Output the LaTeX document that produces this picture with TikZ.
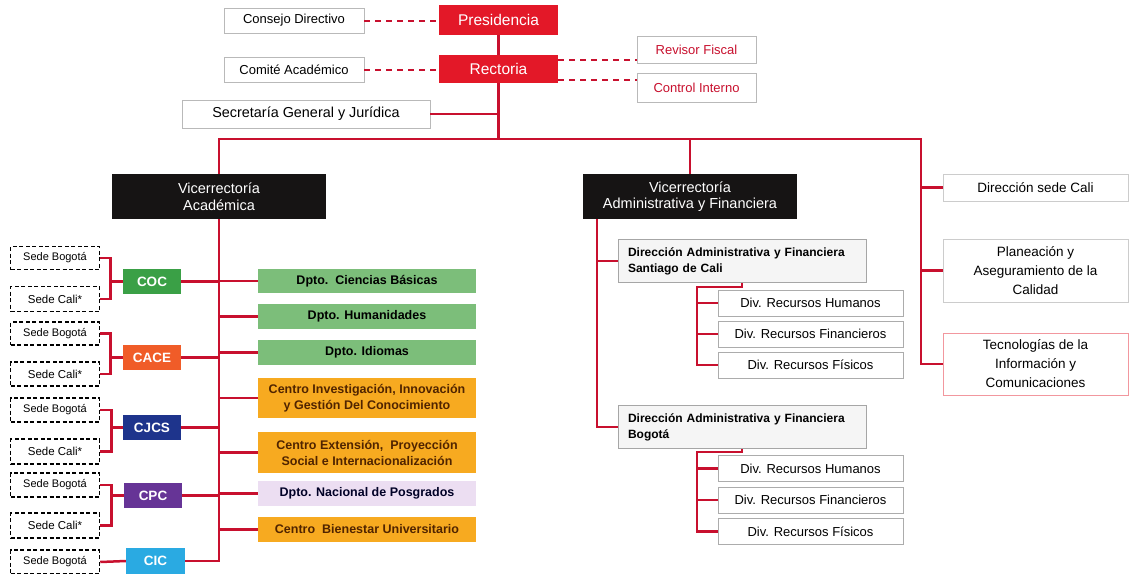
\documentclass[tikz,border=0pt]{standalone}
\usepackage{fontspec}
\setmainfont{Liberation Sans}
\definecolor{rojo}{RGB}{227,24,40}
\definecolor{rojolinea}{RGB}{200,16,46}
\definecolor{negro}{RGB}{22,20,20}
\definecolor{verdeclaro}{RGB}{124,190,122}
\definecolor{verdecoc}{RGB}{58,160,70}
\definecolor{naranja}{RGB}{247,170,32}
\definecolor{cafe}{RGB}{80,36,0}
\definecolor{lila}{RGB}{236,222,242}
\definecolor{cace}{RGB}{240,92,40}
\definecolor{cjcs}{RGB}{30,52,140}
\definecolor{cpc}{RGB}{102,52,150}
\definecolor{cic}{RGB}{42,170,226}
\begin{document}
\begin{tikzpicture}[x=1pt,y=-1pt]
\tikzset{base/.style={inner sep=0pt, align=center},
cajaroja/.style={base, fill=rojo, text=white, minimum width=119pt, font=\fontsize{15.5}{18}\selectfont},
cajablanca/.style={base, draw=gray!55, line width=0.6pt, fill=white, font=\fontsize{13}{15}\selectfont},
cajanegra/.style={base, fill=negro, text=white, minimum width=214pt, minimum height=45pt, font=\fontsize{14.5}{16.5}\selectfont},
direccion/.style={base, align=left, draw=gray!70, fill=gray!8, line width=0.7pt, text width=228pt, inner xsep=10pt, minimum height=43pt, font=\bfseries\fontsize{12}{16}\selectfont},
division/.style={base, draw=gray!65, line width=0.7pt, fill=white, minimum width=185pt, minimum height=26pt, font=\fontsize{13}{15}\selectfont},
derecha/.style={base, draw=gray!40, line width=0.6pt, fill=white, minimum width=185pt, font=\fontsize{13.5}{19}\selectfont},
dpto/.style={base, minimum width=218pt, minimum height=25pt, font=\bfseries\fontsize{12.5}{16}\selectfont},
facultad/.style={base, text=white, minimum width=58pt, minimum height=25pt, font=\bfseries\fontsize{13.5}{15}\selectfont},
sede/.style={base, draw=black, fill=white, line width=1.5pt, dash pattern=on 4pt off 2.5pt, minimum width=89pt, minimum height=23pt, font=\fontsize{11}{13}\selectfont},
linea/.style={draw=rojolinea, line width=2.5pt},
punteada/.style={draw=rojolinea, line width=2pt, dash pattern=on 6pt off 5pt}}
\useasboundingbox (0,0) rectangle (1131,573);
\clip (0,0) rectangle (1131,573);
\fill[white] (0,0) rectangle (1131,573);
\node[cajaroja, minimum height=30pt] (pres) at (498.5,20) {Presidencia};
\node[cajaroja, minimum height=28pt] (rect) at (498.5,69) {Rectoria};
\node[cajablanca, minimum width=140pt, minimum height=25pt] (consejo) at (294,20.5) {Consejo Directivo};
\node[cajablanca, minimum width=140pt, minimum height=25pt] (comite) at (294,69.5) {Comité Académico};
\node[cajablanca, text=rojolinea, minimum width=119pt, minimum height=27pt] (revisor) at (696.5,49.5) {Revisor Fiscal};
\node[cajablanca, text=rojolinea, minimum width=119pt, minimum height=29pt] (control) at (696.5,87.5) {Control Interno};
\node[cajablanca, minimum width=248pt, minimum height=28pt, font=\fontsize{14.4}{16}\selectfont] (secret) at (306,114) {Secretaría General y Jurídica};
\node[cajanegra] (viceac) at (219,196.5) {Vicerrectoría\\Académica};
\node[cajanegra] (viceadm) at (690,196.5) {Vicerrectoría\\Administrativa y Financiera};
\node[direccion] (dircali) at (742,261) {Dirección Administrativa y Financiera\\Santiago de Cali};
\node[division] (chum) at (810.5,303) {Div. Recursos Humanos};
\node[division] (cfin) at (810.5,334) {Div. Recursos Financieros};
\node[division] (cfis) at (810.5,365) {Div. Recursos Físicos};
\node[direccion] (dirbog) at (742,427) {Dirección Administrativa y Financiera\\Bogotá};
\node[division] (bhum) at (810.5,468.5) {Div. Recursos Humanos};
\node[division] (bfin) at (810.5,500) {Div. Recursos Financieros};
\node[division] (bfis) at (810.5,531.5) {Div. Recursos Físicos};
\node[derecha, minimum height=27pt] (dirsede) at (1035.5,187.5) {Dirección sede Cali};
\node[derecha, minimum height=63pt] (planea) at (1035.5,270.5) {Planeación y\\Aseguramiento de la\\Calidad};
\node[derecha, draw=rojo!45, minimum height=62pt] (tic) at (1035.5,364) {Tecnologías de la\\Información y\\Comunicaciones};
\node[dpto, fill=verdeclaro, minimum height=24pt] (cien) at (367,281) {Dpto.\ \ Ciencias Básicas};
\node[dpto, fill=verdeclaro] (hum) at (367,316.5) {Dpto. Humanidades};
\node[dpto, fill=verdeclaro] (idi) at (367,352.5) {Dpto. Idiomas};
\node[dpto, fill=naranja, text=cafe, minimum height=40pt] (cinv) at (367,398) {Centro Investigación, Innovación\\y Gestión Del Conocimiento};
\node[dpto, fill=naranja, text=cafe, minimum height=41pt] (cext) at (367,452.5) {Centro Extensión,\ \ Proyección\\Social e Internacionalización};
\node[dpto, fill=lila, text=black!85!blue] (posg) at (367,493.5) {Dpto. Nacional de Posgrados};
\node[dpto, fill=naranja, text=cafe] (bien) at (367,529.5) {Centro\ \ Bienestar Universitario};
\node[facultad, fill=verdecoc] (coc) at (152,281.5) {COC};
\node[facultad, fill=cace] (cace) at (152,357.5) {CACE};
\node[facultad, fill=cjcs] (cjcs) at (152,427.5) {CJCS};
\node[facultad, fill=cpc] (cpc) at (153,495.5) {CPC};
\node[facultad, fill=cic, minimum width=59pt, minimum height=26pt] (cic) at (155.5,561) {CIC};
\node[sede] (sb1) at (55,258) {Sede Bogotá};
\node[sede, minimum height=25pt, font=\fontsize{11.5}{13}\selectfont] (sc1) at (55,299) {Sede Cali*};
\node[sede] (sb2) at (55,333.5) {Sede Bogotá};
\node[sede, minimum height=24pt, font=\fontsize{11.5}{13}\selectfont] (sc2) at (55,374) {Sede Cali*};
\node[sede, minimum height=24pt] (sb3) at (55,410) {Sede Bogotá};
\node[sede, minimum height=25pt, font=\fontsize{11.5}{13}\selectfont] (sc3) at (55,451.5) {Sede Cali*};
\node[sede, minimum height=24pt] (sb4) at (55,485) {Sede Bogotá};
\node[sede, minimum height=25pt, font=\fontsize{11.5}{13}\selectfont] (sc4) at (55,525.5) {Sede Cali*};
\node[sede, minimum height=24pt] (sb5) at (55,562) {Sede Bogotá};
\coordinate (barra) at (921,139);
\coordinate (va) at (597,219);
\coordinate (ca) at (697,287);
\coordinate (cb) at (697,452);
\draw[punteada] (consejo.east) -- (pres.west |- consejo.east);
\draw[punteada] (comite.east) -- (rect.west |- comite.east);
\draw[punteada] (rect.east |- 0,60) -- (revisor.west |- 0,60);
\draw[punteada] (rect.east |- 0,80) -- (control.west |- 0,80);
\draw[linea] (pres.south) -- (rect.north);
\draw[linea] (rect.south) -- (rect.south |- barra);
\draw[linea] (secret.east) -- (secret.east -| rect.south);
\draw[linea] (viceac.north) |- (barra) |- (tic.west);
\draw[linea] (viceadm.north) -- (viceadm.north |- barra);
\draw[linea] (dirsede.west) -- (dirsede.west -| barra);
\draw[linea] (planea.west) -- (planea.west -| barra);
\draw[linea] (va) |- (dirbog.west);
\draw[linea] (dircali.west) -- (dircali.west -| va);
\draw[linea] (dircali.south) |- (ca) |- (cfis.west);
\draw[linea] (chum.west) -- (chum.west -| ca);
\draw[linea] (cfin.west) -- (cfin.west -| ca);
\draw[linea] (dirbog.south) |- (cb) |- (bfis.west);
\draw[linea] (bhum.west) -- (bhum.west -| cb);
\draw[linea] (bfin.west) -- (bfin.west -| cb);
\draw[linea] (viceac.south) |- (cic.east);
\foreach \d in {cien,hum,idi,cinv,cext,posg,bien}
  \draw[linea] (\d.west) -- (\d.west -| viceac.south);
\foreach \f in {coc,cace,cjcs,cpc}
  \draw[linea] (\f.east) -- (\f.east -| viceac.south);
\draw[linea] (sb1.east) -- ++(10,0) |- (coc.west);
\draw[linea] (sc1.east) -- ++(10,0) |- (coc.west);
\draw[linea] (sb2.east) -- ++(10,0) |- (cace.west);
\draw[linea] (sc2.east) -- ++(10,0) |- (cace.west);
\draw[linea] (sb3.east) -- ++(11,0) |- (cjcs.west);
\draw[linea] (sc3.east) -- ++(11,0) |- (cjcs.west);
\draw[linea] (sb4.east) -- ++(11,0) |- (cpc.west);
\draw[linea] (sc4.east) -- ++(11,0) |- (cpc.west);
\draw[linea] (sb5.east) -- (cic.west);
\end{tikzpicture}
\end{document}
